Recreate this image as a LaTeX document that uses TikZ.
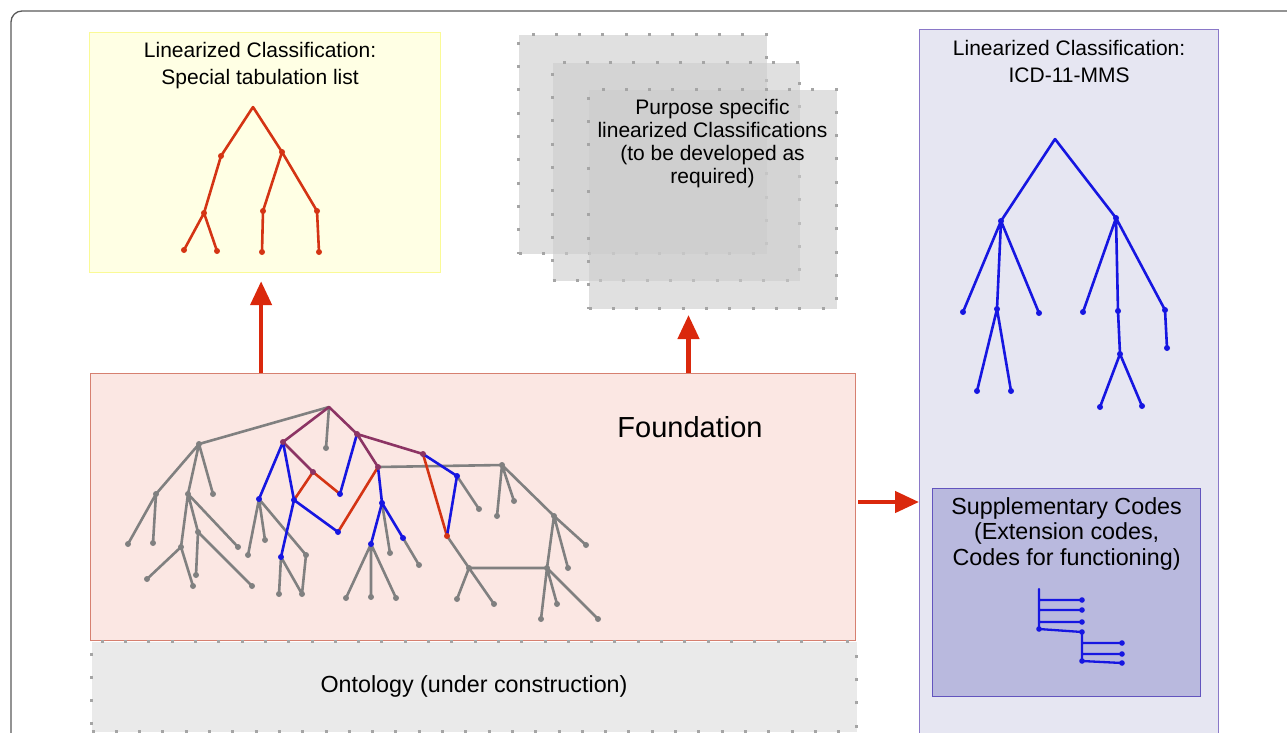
\documentclass[tikz,border=0pt]{standalone}
\usepackage{fontspec}
\setmainfont{Liberation Sans}
\usetikzlibrary{positioning}
\usetikzlibrary{arrows.meta}

\definecolor{specfill}{RGB}{255,255,228}
\definecolor{specline}{RGB}{250,250,150}
\definecolor{foundfill}{RGB}{251,231,227}
\definecolor{foundline}{RGB}{214,128,112}
\definecolor{ontofill}{RGB}{234,234,234}
\definecolor{mmsfill}{RGB}{230,230,242}
\definecolor{mmsline}{RGB}{138,120,200}
\definecolor{suppfill}{RGB}{185,185,222}
\definecolor{suppline}{RGB}{98,84,190}
\definecolor{dotgrey}{RGB}{165,165,165}
\definecolor{treered}{RGB}{212,52,20}
\definecolor{treeblue}{RGB}{22,22,225}
\definecolor{treegrey}{RGB}{128,128,128}
\definecolor{treepurple}{RGB}{140,52,100}
\definecolor{arrowred}{RGB}{218,40,12}

\begin{document}
\begin{tikzpicture}[x=1pt,y=-1pt,
		box/.style={draw, line width=1.2pt, inner sep=0pt, anchor=north west},
		dotbox/.style={draw=dotgrey, line width=3pt, dash pattern=on 3pt off 20.3pt, fill=black!20, fill opacity=0.6},
		boxtitle/.style={font=\fontsize{21}{27}\selectfont, align=center, inner sep=0pt},
		bigarrow/.style={draw=arrowred, line width=4.5pt, -{Triangle[length=24pt,width=21pt]}},
		redline/.style={draw=treered, line width=2.6pt, line cap=round},
		blueline/.style={draw=treeblue, line width=2.6pt, line cap=round},
		greyline/.style={draw=treegrey, line width=2.6pt, line cap=round},
		purpleline/.style={draw=treepurple, line width=2.6pt, line cap=round}]
		\clip (0,0) rectangle (1287,732);
		\draw[line width=1.3pt, draw=black!65, rounded corners=11pt] (11,760) -- (11,11) -- (1310,11); %frame%

		% boxes
		\node[box, draw=specline, fill=specfill, minimum width=351pt, minimum height=240pt] (special) at (89,32) {};
		\node[box, dotbox, minimum width=248pt, minimum height=219pt] (purposeA) at (517,33) {};
		\node[box, dotbox, minimum width=247pt, minimum height=218pt] (purposeB) at (551,61) {};
		\node[box, dotbox, minimum width=248pt, minimum height=219pt] (purposeC) at (587,88) {};
		\node[box, draw=foundline, fill=foundfill, minimum width=765pt, minimum height=267pt] (found) at (90,373) {};
		\node[box, dotbox, fill=ontofill, fill opacity=1, minimum width=765pt, minimum height=90pt, font=\fontsize{23.3}{27}\selectfont] (onto) at (90,640) {Ontology (under construction)};
		\node[box, draw=mmsline, fill=mmsfill, minimum width=299pt, minimum height=720pt] (mms) at (919,29) {};
		\node[box, draw=suppline, fill=suppfill, minimum width=268pt, minimum height=208pt] (supp) at (932,488) {};

		% titles
		\node[boxtitle, below=10pt of special.north, xshift=-5pt] (specialtitle) {Linearized Classification:\\Special tabulation list};
		\node[boxtitle, below=11pt of mms.north] (mmstitle) {Linearized Classification:\\ICD-11-MMS};
		\node[boxtitle, font=\fontsize{23.3}{25.5}\selectfont, below=9pt of supp.north] (supptitle) {Supplementary Codes\\(Extension codes,\\Codes for functioning)};
		\node[boxtitle, font=\fontsize{21}{23}\selectfont, below=11pt of purposeC.north] (purposetitle) {Purpose specific\\linearized Classifications\\(to be developed as\\required)};
		\node[font=\fontsize{29}{34}\selectfont, inner sep=0pt] (foundtitle) at (690,427) {Foundation};

		% arrows
		\coordinate (specialarrow) at ([xshift=-4pt,yshift=-8pt]special.south);
		\draw[bigarrow] (found.north -| specialarrow) -- (specialarrow);
		\coordinate (purposearrow) at ([xshift=-24pt,yshift=-5pt]purposeC.south);
		\draw[bigarrow] (found.north -| purposearrow) -- (purposearrow);
		\coordinate (suppentry) at ([yshift=-14pt]supp.north west);
		\draw[bigarrow] ([xshift=2pt]found.east |- suppentry) -- (mms.west |- suppentry);

		% special tabulation tree
		\coordinate (s0) at (253,107);
		\coordinate (s1) at (221,156);
		\coordinate (s2) at (282,152);
		\coordinate (s11) at (204,213);
		\coordinate (s21) at (263,211);
		\coordinate (s22) at (317,211);
		\coordinate (s111) at (184,250);
		\coordinate (s112) at (217,251);
		\coordinate (s211) at (262,252);
		\coordinate (s221) at (319,252);
		\draw[redline] (s0) -- (s1) -- (s11) -- (s111) (s11) -- (s112)
			(s0) -- (s2) -- (s21) -- (s211) (s2) -- (s22) -- (s221);
		\foreach \n in {s1,s2,s11,s21,s22,s111,s112,s211,s221}
			\fill[treered] (\n) circle (3);

		% mms tree
		\coordinate (m0) at (1055,139);
		\coordinate (m1) at (1001,221);
		\coordinate (m2) at (1116,218);
		\coordinate (m11) at (963,312);
		\coordinate (m12) at (997,309);
		\coordinate (m13) at (1039,313);
		\coordinate (m121) at (977,391);
		\coordinate (m122) at (1011,391);
		\coordinate (m21) at (1083,312);
		\coordinate (m22) at (1118,311);
		\coordinate (m23) at (1165,310);
		\coordinate (m221) at (1120,354);
		\coordinate (m2211) at (1100,407);
		\coordinate (m2212) at (1142,406);
		\coordinate (m231) at (1167,348);
		\draw[blueline] (m0) -- (m1) -- (m11) (m1) -- (m12) -- (m121) (m12) -- (m122) (m1) -- (m13)
			(m0) -- (m2) -- (m21) (m2) -- (m22) -- (m221) -- (m2211) (m221) -- (m2212)
			(m2) -- (m23) -- (m231);
		\foreach \n in {m1,m2,m11,m12,m13,m121,m122,m21,m22,m23,m221,m2211,m2212,m231}
			\fill[treeblue] (\n) circle (3);

		% supplementary codes
		\coordinate (x0) at (1039,589);
		\coordinate (x1) at (1039,629);
		\coordinate (xa) at (1082,600);
		\coordinate (xb) at (1082,610);
		\coordinate (xc) at (1082,622);
		\coordinate (x2) at (1082,632);
		\coordinate (x3) at (1082,661);
		\coordinate (xd) at (1122,643);
		\coordinate (xe) at (1122,654);
		\coordinate (xf) at (1122,663);
		\draw[blueline, line width=2.3pt] (x0) -- (x1) -- (x2) -- (x3)
			(x0 |- xa) -- (xa) (x0 |- xb) -- (xb) (x0 |- xc) -- (xc)
			(x2 |- xd) -- (xd) (x2 |- xe) -- (xe) (x3) -- (xf);
		\foreach \n in {x1,xa,xb,xc,x2,x3,xd,xe,xf}
			\fill[treeblue] (\n) circle (2.8);

		% foundation tree
		\coordinate (f0) at (329,407);
		\coordinate (fg1) at (199,444);
		\coordinate (fgd) at (326,448);
		\coordinate (fp1) at (283,442);
		\coordinate (fp2) at (357,434);
		\coordinate (fp3) at (313,472);
		\coordinate (fp4) at (378,467);
		\coordinate (fp5) at (423,454);
		\coordinate (fb1) at (259,499);
		\coordinate (fb2) at (294,500);
		\coordinate (fb3) at (340,494);
		\coordinate (fb4) at (338,532);
		\coordinate (fb5) at (281,557);
		\coordinate (fb6) at (382,503);
		\coordinate (fb7) at (371,544);
		\coordinate (fb8) at (403,538);
		\coordinate (fb9) at (457,476);
		\coordinate (fr1) at (447,536);
		\coordinate (fa1) at (156,494);
		\coordinate (fa2) at (188,494);
		\coordinate (fa3) at (213,494);
		\coordinate (fa11) at (128,544);
		\coordinate (fa12) at (153,543);
		\coordinate (fa21) at (181,547);
		\coordinate (fa22) at (198,532);
		\coordinate (fa23) at (238,547);
		\coordinate (fa211) at (147,579);
		\coordinate (fa212) at (193,586);
		\coordinate (fa221) at (196,575);
		\coordinate (fa222) at (252,586);
		\coordinate (fc1) at (248,555);
		\coordinate (fc2) at (265,540);
		\coordinate (fc3) at (306,555);
		\coordinate (fc4) at (302,594);
		\coordinate (fc5) at (279,594);
		\coordinate (fd1) at (390,553);
		\coordinate (fd2) at (419,565);
		\coordinate (fd3) at (346,598);
		\coordinate (fd4) at (371,597);
		\coordinate (fd5) at (396,598);
		\coordinate (fe1) at (479,509);
		\coordinate (fe2) at (469,568);
		\coordinate (fe3) at (457,599);
		\coordinate (fe4) at (494,604);
		\coordinate (fh0) at (502,465);
		\coordinate (fh1) at (497,516);
		\coordinate (fh2) at (514,501);
		\coordinate (fh3) at (554,516);
		\coordinate (fh4) at (547,568);
		\coordinate (fh5) at (568,568);
		\coordinate (fh6) at (586,545);
		\coordinate (fh7) at (541,619);
		\coordinate (fh8) at (557,604);
		\coordinate (fh9) at (598,619);
		\draw[greyline] (f0) -- (fg1) (f0) -- (fgd)
			(fg1) -- (fa1) (fg1) -- (fa2) (fg1) -- (fa3)
			(fa1) -- (fa11) (fa1) -- (fa12)
			(fa2) -- (fa21) (fa2) -- (fa22) (fa2) -- (fa23)
			(fa21) -- (fa211) (fa21) -- (fa212) (fa22) -- (fa221) (fa22) -- (fa222)
			(fb1) -- (fc1) (fb1) -- (fc2) (fb1) -- (fc3) -- (fc4) (fb5) -- (fc4) (fb5) -- (fc5)
			(fp4) -- (fh0) (fb6) -- (fd1) (fb8) -- (fd2)
			(fb7) -- (fd3) (fb7) -- (fd4) (fb7) -- (fd5)
			(fb9) -- (fe1) (fr1) -- (fe2) -- (fh4) (fe2) -- (fe3) (fe2) -- (fe4)
			(fh0) -- (fh1) (fh0) -- (fh2) (fh0) -- (fh3)
			(fh3) -- (fh4) (fh3) -- (fh5) (fh3) -- (fh6)
			(fh4) -- (fh7) (fh4) -- (fh8) (fh4) -- (fh9);
		\draw[purpleline] (f0) -- (fp1) -- (fp3) (f0) -- (fp2) -- (fp4) (fp2) -- (fp5);
		\draw[redline] (fp3) -- (fb3) (fp3) -- (fb2) (fb4) -- (fp4) (fp5) -- (fr1);
		\draw[blueline] (fp1) -- (fb1) (fp1) -- (fb2) -- (fb5) (fb2) -- (fb4)
			(fp2) -- (fb3) (fp4) -- (fb6) -- (fb7) (fb6) -- (fb8)
			(fp5) -- (fb9) -- (fr1);
		\foreach \n in {fg1,fgd,fa1,fa2,fa3,fa11,fa12,fa21,fa22,fa23,fa211,fa212,fa221,fa222,
			fc1,fc2,fc3,fc4,fc5,fd1,fd2,fd3,fd4,fd5,fe1,fe2,fe3,fe4,fh0,fh1,fh2,fh3,fh4,fh5,fh6,fh7,fh8,fh9}
			\fill[treegrey] (\n) circle (3);
		\foreach \n in {fp1,fp2,fp3,fp4,fp5}
			\fill[treepurple] (\n) circle (3);
		\foreach \n in {fb1,fb2,fb3,fb4,fb5,fb6,fb7,fb8,fb9}
			\fill[treeblue] (\n) circle (3);
		\fill[treered] (fr1) circle (3);
	\end{tikzpicture}
\end{document}
